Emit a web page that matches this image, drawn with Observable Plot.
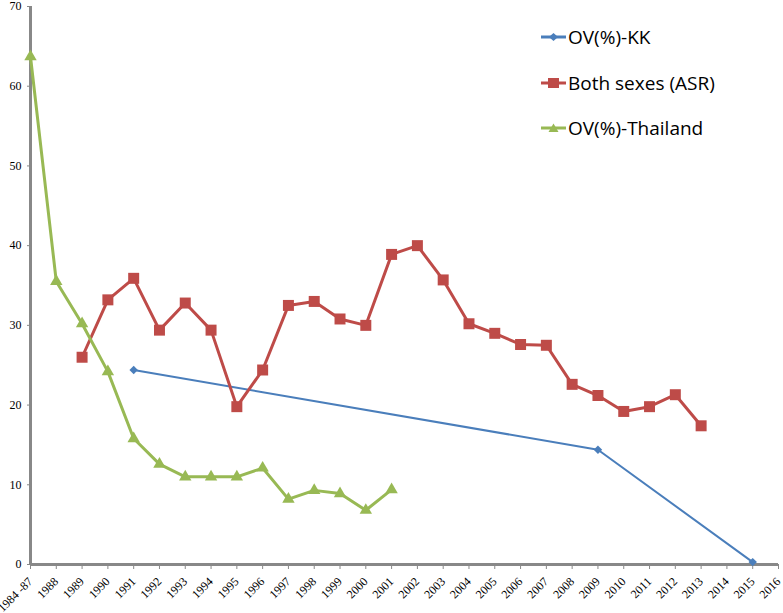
<!DOCTYPE html>
<html><head><meta charset="utf-8">
<script src="https://cdn.jsdelivr.net/npm/d3@7"></script>
<script src="https://cdn.jsdelivr.net/npm/@observablehq/plot@0.6"></script>
<style>
body{margin:0;background:#fff;}
#wrap{position:relative;width:783px;height:613px;overflow:hidden;}
#legend{position:absolute;left:541px;top:0;font-family:"Open Sans",sans-serif;font-size:19px;color:#000;}
.item{position:absolute;left:0;height:26px;display:flex;align-items:center;white-space:nowrap;}
.item svg{margin-right:2px;}
</style></head><body>
<div id="wrap"><div id="chart"></div><div id="legend"></div></div>
<script>
const categories = ["1984 -87","1988","1989","1990","1991","1992","1993","1994","1995","1996","1997","1998","1999","2000","2001","2002","2003","2004","2005","2006","2007","2008","2009","2010","2011","2012","2013","2014","2015","2016"];
const seriesNames = ["OV(%)-KK","Both sexes (ASR)","OV(%)-Thailand"];
const seriesColors = ["#4a7ebb","#be4b48","#98b954"];
const yTicks = [0,10,20,30,40,50,60,70];
// values aligned with categories (null = no data)
const kkValues = [null,null,null,null,24.4,null,null,null,null,null,null,null,null,null,null,null,null,null,null,null,null,null,14.4,null,null,null,null,null,0.3,null];
const asrValues = [null,null,26.0,33.2,35.9,29.4,32.8,29.4,19.8,24.4,32.5,33.0,30.8,30.0,38.9,40.0,35.7,30.2,29.0,27.6,27.5,22.6,21.2,19.2,19.8,21.3,17.4,null,null,null];
const thaiValues = [63.7,35.5,30.2,24.2,15.8,12.6,11.0,11.0,11.0,12.1,8.2,9.3,8.9,6.8,9.4,null,null,null,null,null,null,null,null,null,null,null,null,null,null,null];

const toRows = vals => categories.map((c,i)=>({i, cat:c, v:vals[i]})).filter(d=>d.v!=null);
const kk = toRows(kkValues), asr = toRows(asrValues), thai = toRows(thaiValues);
const idx = d3.range(categories.length);

const chart = Plot.plot({
  width:783, height:613,
  marginLeft:30, marginRight:5, marginTop:6, marginBottom:49,
  style:{background:"#fff", fontFamily:"'Liberation Serif', serif", fontSize:"11px", color:"#000"},
  x:{type:"linear", domain:[0, categories.length-1]},
  y:{domain:[0,70]},
  marks:[
    Plot.axisY({ticks:yTicks, tickSize:3, stroke:"#888", fontSize:12, tickPadding:6, label:null}),
    Plot.axisX({ticks:idx, tickFormat:i=>categories[i], tickSize:5, stroke:"#888", tickRotate:-45, fontSize:12, tickPadding:10, label:null}),
    Plot.ruleY([0], {stroke:"#888", strokeWidth:3}),
    Plot.ruleX([0], {y1:0, y2:70, stroke:"#888", strokeWidth:3}),
    Plot.line(kk, {x:"i", y:"v", stroke:seriesColors[0], strokeWidth:2}),
    Plot.dot(kk, {x:"i", y:"v", symbol:"diamond2", r:3.8, fill:seriesColors[0], stroke:null}),
    Plot.line(asr, {x:"i", y:"v", stroke:seriesColors[1], strokeWidth:3}),
    Plot.dot(asr, {x:"i", y:"v", symbol:"square", r:6.2, fill:seriesColors[1], stroke:null}),
    Plot.line(thai, {x:"i", y:"v", stroke:seriesColors[2], strokeWidth:3}),
    Plot.dot(thai, {x:"i", y:"v", symbol:"triangle", r:4.6, fill:seriesColors[2], stroke:null})
  ]
});
document.getElementById("chart").appendChild(chart);

// legend
const legend = document.getElementById("legend");
const symbolsSvg = [
  c=>`<polygon points="12.5,3 17,7 12.5,11 8,7" fill="${c}"/>`,
  c=>`<rect x="7" y="2" width="11" height="10" fill="${c}"/>`,
  c=>`<polygon points="12.5,2.5 17.5,11 7.5,11" fill="${c}"/>`
];
const centers = [37,83,128];
seriesNames.forEach((name,i)=>{
  const d = document.createElement("div");
  d.className = "item";
  d.style.top = (centers[i]-13)+"px";
  d.innerHTML = `<svg width="25" height="14" viewBox="0 0 25 14"><line x1="0" y1="7" x2="25" y2="7" stroke="${seriesColors[i]}" stroke-width="3"/>${symbolsSvg[i](seriesColors[i])}</svg><span>${name}</span>`;
  legend.appendChild(d);
});
</script>
</body></html>
